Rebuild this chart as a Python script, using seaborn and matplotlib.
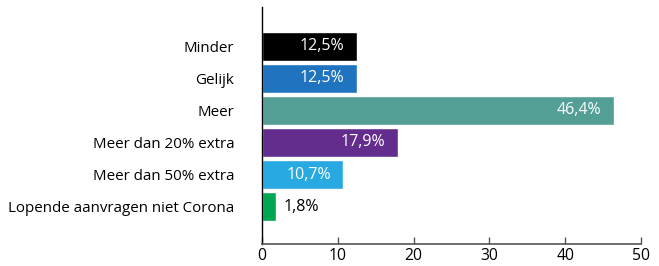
import pandas as pd
import seaborn as sns
import matplotlib.pyplot as plt

# data
categories = ["Minder", "Gelijk", "Meer", "Meer dan 20% extra",
              "Meer dan 50% extra", "Lopende aanvragen niet Corona"]
values = [12.5, 12.5, 46.4, 17.9, 10.7, 1.8]
colors = ["#000000", "#1f73bf", "#539f96", "#632d8e", "#29a9e1", "#00a651"]

df = pd.DataFrame({"categorie": categories, "waarde": values})

sns.set_style("white")
plt.rcParams['font.family'] = ['Open Sans', 'DejaVu Sans']

fig = plt.figure(figsize=(6.59, 2.66), dpi=100)
ax = fig.add_axes([262 / 659, 22 / 266, 379 / 659, 237 / 266])

sns.barplot(data=df, x="waarde", y="categorie", hue="categorie",
            palette=colors, legend=False, width=0.9, saturation=1, ax=ax)

# value labels
for i, v in enumerate(values):
    txt = f"{v:.1f}%".replace(".", ",")
    if v > 5:
        ax.text(v - 1.6, i, txt, color="white", ha="right", va="center", fontsize=11.5)
    else:
        ax.text(v + 1.1, i, txt, color="black", ha="left", va="center", fontsize=11.5)

ax.set_xlim(0, 50)
ax.set_ylim(6.17, -1.23)
ax.set_xticks(range(0, 51, 10))
ax.set_xlabel("")
ax.set_ylabel("")

for s in ["top", "right"]:
    ax.spines[s].set_visible(False)
ax.spines["left"].set_color("black")
ax.spines["left"].set_linewidth(1)
ax.spines["bottom"].set_color("#555555")
ax.spines["bottom"].set_linewidth(1.2)

ax.tick_params(axis="x", direction="in", length=5, width=1, color="#555555",
               labelsize=11.3, pad=3, bottom=True, labelcolor="black")
ax.tick_params(axis="y", length=0, labelsize=10.9, pad=20, labelcolor="black")

plt.savefig("out.png", dpi=100)
